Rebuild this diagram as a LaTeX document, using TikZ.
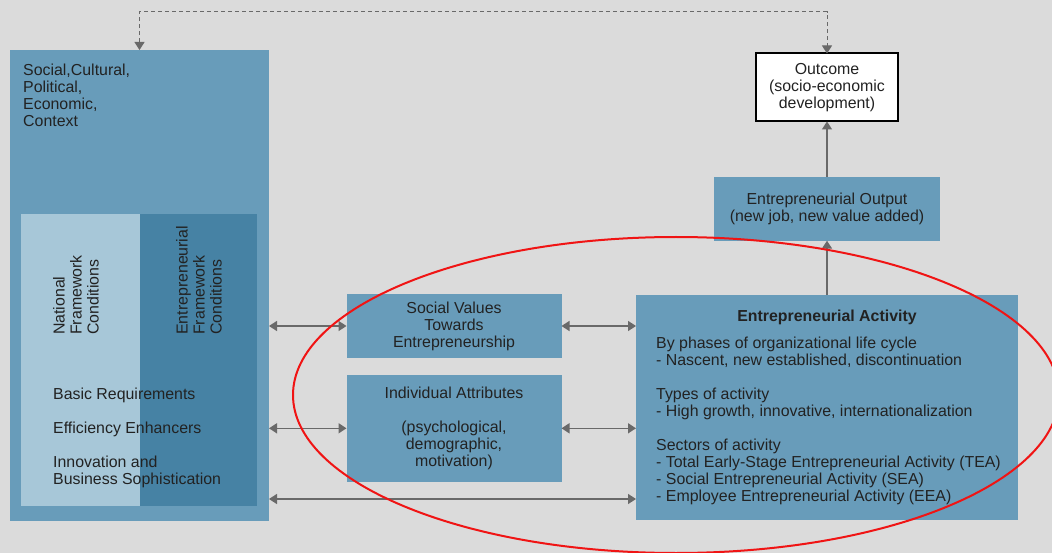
\documentclass[tikz,border=0pt]{standalone}
\usepackage{fontspec}
\setmainfont{Liberation Sans}
\usepackage{xcolor}
\usetikzlibrary{arrows.meta}

\definecolor{paper}{RGB}{219,219,219}
\definecolor{gemblue}{RGB}{104,156,186}
\definecolor{lightblue}{RGB}{167,199,216}
\definecolor{deepblue}{RGB}{70,130,164}
\definecolor{ink}{RGB}{34,34,34}
\definecolor{linkgrey}{RGB}{105,105,105}
\definecolor{markred}{RGB}{240,20,20}

\begin{document}
\begin{tikzpicture}[x=1pt,y=-1pt,
  txt/.style={text=ink,font=\fontsize{15.9}{17}\selectfont},
  box/.style={fill=gemblue,txt,align=center,outer sep=0pt},
  link/.style={draw=linkgrey,line width=1.5pt,{Triangle[length=8pt,width=10pt]}-{Triangle[length=8pt,width=10pt]}},
  uplink/.style={draw=linkgrey,line width=1.5pt,-{Triangle[length=8pt,width=10pt]}},
  feedback/.style={link,line width=1pt,dash pattern=on 4pt off 3pt}]
\tikzstyle{every node}+=[inner sep=0pt]
\useasboundingbox (0,0) rectangle (1052,553);
\fill[paper] (0,0) rectangle (1052,553);
% context block
\node[box,minimum width=259pt,minimum height=471pt] (ctx) at (139.5,285.5) {};
\node[box,fill=lightblue,minimum width=119pt,minimum height=292pt] (nfc) at (80.5,360) {};
\node[box,fill=deepblue,minimum width=117pt,minimum height=292pt] (efc) at (198.5,360) {};
\node[txt,anchor=north west,align=left] (ctxtext) at (23,64) {Social,Cultural,\\Political,\\Economic,\\Context};
\node[txt,rotate=90,anchor=north west,align=left] (nfctext) at (53,335) {National\\Framework\\Conditions};
\node[txt,rotate=90,anchor=north west,align=left] (efctext) at (176,335) {Entrepreneurial\\Framework\\Conditions};
\node[txt,anchor=north west,align=left] (pillars) at (53,388) {Basic Requirements\\[17pt]Efficiency Enhancers\\[17pt]Innovation and\\Business Sophistication};
% middle boxes
\node[box,minimum width=215pt,minimum height=64pt] (values) at (454,326) {Social Values\\Towards\\Entrepreneurship};
\node[box,minimum width=215pt,minimum height=107pt] (attrib) at (454,428.3) {Individual Attributes\\[17pt](psychological,\\demographic,\\motivation)};
% activity, output, outcome
\node[box,minimum width=382pt,minimum height=225pt] (act) at (827,407.5) {};
\node[txt,font=\fontsize{15.9}{17}\selectfont\bfseries,anchor=base] (acttitle) at (827,321) {Entrepreneurial Activity};
\node[txt,anchor=north west,align=left] (actbody) at (656,336.6) {By phases of organizational life cycle\\- Nascent, new established, discontinuation\\[17pt]Types of activity\\- High growth, innovative, internationalization\\[17pt]Sectors of activity\\- Total Early-Stage Entrepreneurial Activity (TEA)\\- Social Entrepreneurial Activity (SEA)\\- Employee Entrepreneurial Activity (EEA)};
\node[box,minimum width=226pt,minimum height=64pt] (output) at (827,208.7) {Entrepreneurial Output\\(new job, new value added)};
\node[box,fill=white,draw=black,line width=2pt,minimum width=142pt,minimum height=68pt] (outcome) at (827,87.5) {Outcome\\(socio-economic\\development)};
% connectors
\coordinate (lowlink) at (0,499);
\draw[link] (ctx.east |- values.west) -- (values.west);
\draw[link] (ctx.east |- attrib.west) -- (attrib.west);
\draw[link] (values.east) -- (act.west |- values.east);
\draw[link] (attrib.east) -- (act.west |- attrib.east);
\draw[link] (ctx.east |- lowlink) -- (act.west |- lowlink);
\draw[uplink] (act.north) -- (output.south);
\draw[uplink] (output.north) -- (outcome.south);
\draw[feedback] (ctx.north) -- ++(0,-38) -| (outcome.north);
% highlight
\draw[markred,line width=2pt] (676,395) ellipse [x radius=383, y radius=158];
\end{tikzpicture}
\end{document}
